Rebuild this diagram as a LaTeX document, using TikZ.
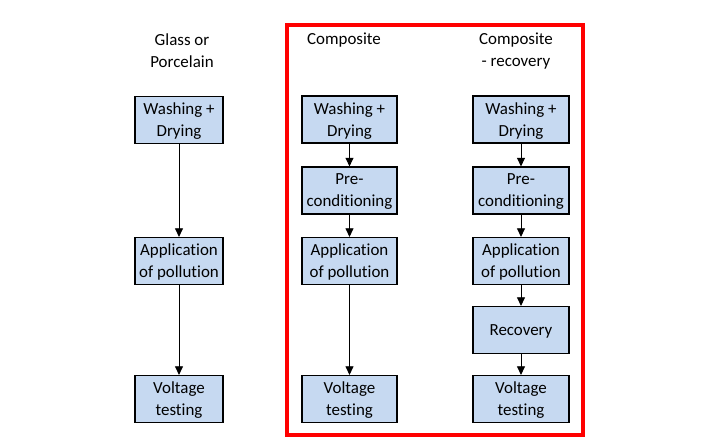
\documentclass[tikz,border=0pt]{standalone}
\usepackage{fontspec}
\setmainfont[Ligatures=NoCommon]{Carlito}
\usepackage{tikz}
\usetikzlibrary{arrows.meta}
\definecolor{boxblue}{HTML}{C6D9F1}
\definecolor{framered}{HTML}{FF0000}

\begin{document}
\begin{tikzpicture}[x=0.75pt,y=-0.75pt,
	font=\fontsize{12.7}{16.5}\selectfont,
	stepbox/.style={draw=black,line width=1.1pt,fill=boxblue,align=center,inner sep=0pt,text depth=0pt,minimum height=35pt},
	title/.style={align=center,inner sep=0pt},
	flow/.style={line width=0.7pt,-{Triangle[length=6.5pt,width=6pt]}}]

\useasboundingbox (0,0) rectangle (722,440);

\draw[framered,line width=2.3pt] (287,25) rectangle (583,435);% Composite frame

% titles
\node[title] (tglass) at (182,51) {Glass or\\Porcelain};
\node[title] (tcomp) at (344,40) {Composite};
\node[title] (trec) at (516,51) {Composite\\- recovery};

% glass or porcelain
\node[stepbox,minimum width=66pt] (gwash) at (179,120) {Washing +\\Drying};
\node[stepbox,minimum width=66pt] (gapp) at (179,261) {Application\\of pollution};
\node[stepbox,minimum width=66pt] (gvolt) at (179,399) {Voltage\\testing};

% composite
\node[stepbox,minimum width=71pt] (cwash) at (349.5,119.5) {Washing +\\Drying};
\node[stepbox,minimum width=71pt] (cpre) at (349.5,190.5) {Pre-\\conditioning};
\node[stepbox,minimum width=71pt] (capp) at (349.5,261) {Application\\of pollution};
\node[stepbox,minimum width=71pt] (cvolt) at (349.5,399) {Voltage\\testing};

% composite - recovery
\node[stepbox,minimum width=72pt] (rwash) at (521,119.5) {Washing +\\Drying};
\node[stepbox,minimum width=72pt] (rpre) at (521,190.5) {Pre-\\conditioning};
\node[stepbox,minimum width=72pt] (rapp) at (521,261) {Application\\of pollution};
\node[stepbox,minimum width=72pt] (rrec) at (521,330) {Recovery};
\node[stepbox,minimum width=72pt] (rvolt) at (521,399) {Voltage\\testing};

\foreach \a/\b in {gwash/gapp,gapp/gvolt,cwash/cpre,cpre/capp,capp/cvolt,rwash/rpre,rpre/rapp,rapp/rrec,rrec/rvolt}{
	\draw[flow] (\a) -- (\b);
}

\end{tikzpicture}
\end{document}
